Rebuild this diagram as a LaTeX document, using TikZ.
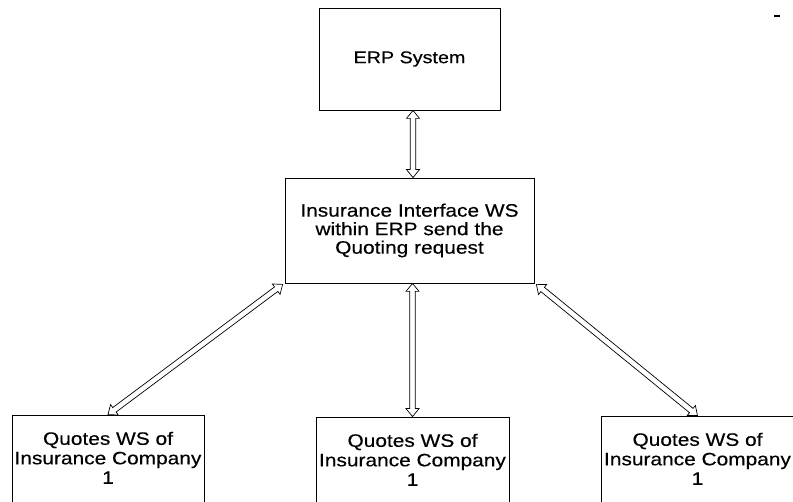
\documentclass[tikz,border=0pt]{standalone}
\usepackage{fontspec}
\setmainfont{Liberation Sans}[FakeStretch=1.16, FakeBold=0.4]
\usetikzlibrary{calc}

\tikzset{
  x=1pt, y=1pt,
  boxnode/.style={draw=black, line width=0.8pt, rectangle, inner sep=0pt},
  boxtext/.style={inner sep=0pt, align=center, font=\fontsize{18}{19.5}\selectfont},
  blockarrow/.style={draw=black, fill=white, line width=0.7pt, line join=miter}
}

% hollow two-headed block arrow between two points (head length 8pt,
% head half-width 6.5pt, shaft half-width 2.8pt)
\newcommand\twowayarrow[2]{%
  \coordinate (ba-a) at (#1);
  \coordinate (ba-b) at (#2);
  \coordinate (ba-pa) at ($(ba-a)!8pt!(ba-b)$);
  \coordinate (ba-pb) at ($(ba-b)!8pt!(ba-a)$);
  \draw[blockarrow] (ba-a)
    -- ($(ba-pa)!6.5pt!90:(ba-b)$)
    -- ($(ba-pa)!2.8pt!90:(ba-b)$)
    -- ($(ba-pb)!2.8pt!-90:(ba-a)$)
    -- ($(ba-pb)!6.5pt!-90:(ba-a)$)
    -- (ba-b)
    -- ($(ba-pb)!6.5pt!90:(ba-a)$)
    -- ($(ba-pb)!2.8pt!90:(ba-a)$)
    -- ($(ba-pa)!2.8pt!-90:(ba-b)$)
    -- ($(ba-pa)!6.5pt!-90:(ba-b)$)
    -- cycle;
}

\begin{document}
\begin{tikzpicture}
  \useasboundingbox (0,0) rectangle (793,-502);

  % top: the ERP system
  \node[boxnode, minimum width=181pt, minimum height=102pt, font=\fontsize{17}{19}\selectfont]
    (erp) at (409.5,-59) {ERP System};

  % middle: the interface web service
  \node[boxnode, minimum width=249pt, minimum height=105pt] (iface) at (409.5,-230.5) {};
  \node[boxtext, font=\fontsize{18}{18.5}\selectfont] (ifacetext) at (iface.center)
    {Insurance Interface WS\\within ERP send the\\Quoting request};

  % bottom row: the insurance companies' quoting services
  \node[boxnode, minimum width=192pt, minimum height=110pt] (q1) at (108,-470) {};
  \node[boxnode, minimum width=193pt, minimum height=110pt] (q2) at (412.5,-472) {};
  \node[boxnode, minimum width=193pt, minimum height=110pt] (q3) at (697.5,-471) {};
  \foreach \q in {q1,q2,q3}{
    \node[boxtext, anchor=north] (\q text) at ([yshift=-17pt]\q.north)
      {Quotes WS of\\Insurance Company\\1};
  }

  % two-way connectors
  \coordinate (ifacetop) at ([xshift=3.5pt]iface.north);
  \coordinate (erpfoot) at (erp.south -| ifacetop);
  \twowayarrow{erpfoot}{ifacetop}
  \coordinate (ifacefoot) at (q2.north |- iface.south);
  \twowayarrow{ifacefoot}{q2.north}
  \coordinate (ifacesw) at ([xshift=-2pt,yshift=-1pt]iface.south west);
  \twowayarrow{ifacesw}{q1.north}
  \coordinate (ifacese) at ([xshift=2pt,yshift=-1pt]iface.south east);
  \twowayarrow{ifacese}{q3.north}

  % small stray mark at the top right
  \fill[black] (774,-15.5) rectangle (780,-17.5);
\end{tikzpicture}
\end{document}
